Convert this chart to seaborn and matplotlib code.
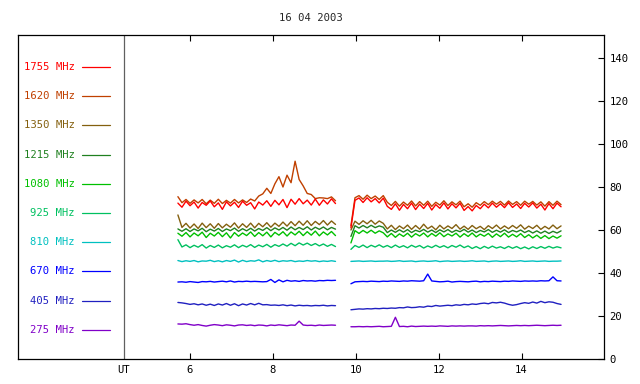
import numpy as np
import pandas as pd
import matplotlib
matplotlib.use("Agg")
import matplotlib.pyplot as plt
import seaborn as sns

TITLE = "16 04 2003"

labels = ["1755 MHz", "1620 MHz", "1350 MHz", "1215 MHz", "1080 MHz",
          "925 MHz", "810 MHz", "670 MHz", "405 MHz", "275 MHz"]
colors = ["#ff0000", "#c04000", "#84600f", "#208020", "#00c000",
          "#00c060", "#00c0c0", "#0000ff", "#2020c0", "#8000c8"]

# two observing runs (UT hours): start of each run and sample spacing
run_start = [5.66, 9.835]
step = 0.0975

# ---- flux values, first run (a) and second run (b) ----
f1755_a = [72.5, 70.6, 73.4, 71.3, 73.0, 70.2, 72.8, 71.5, 73.5, 70.8, 72.6, 69.6, 73.1, 71.2,
           72.9, 70.5, 73.4, 71.5, 72.7, 69.8, 73.0, 71.6, 73.6, 71.0, 73.8, 71.7, 74.2, 70.4,
           74.3, 72.0, 74.6, 72.2, 73.9, 71.6, 74.4, 71.5, 74.0, 72.1, 74.5, 72.3]
f1755_b = [61.0, 73.8, 74.9, 72.8, 75.0, 73.1, 74.6, 72.6, 74.8, 71.0, 69.6, 72.2, 69.2, 71.9,
           69.9, 72.5, 69.5, 72.0, 70.0, 72.4, 69.3, 71.8, 70.1, 72.6, 69.8, 72.2, 70.3, 72.4,
           69.1, 70.9, 68.9, 71.4, 69.9, 72.0, 70.3, 72.5, 70.6, 72.2, 70.4, 72.7, 70.5, 72.1,
           70.0, 72.4, 70.7, 72.6, 70.2, 72.0, 69.3, 72.3, 69.9, 72.5, 70.8]

f1620_a = [75.5, 72.7, 74.2, 72.4, 74.0, 72.6, 74.2, 72.2, 73.9, 72.4, 74.3, 72.3, 73.8, 72.5,
           74.2, 72.6, 74.0, 72.8, 74.4, 73.5, 75.8, 76.8, 79.4, 77.0, 81.5, 84.8, 80.0, 85.5,
           82.0, 92.0, 83.5, 80.5, 77.0, 76.5, 74.6, 75.0, 74.9, 74.6, 75.4, 73.6]
f1620_b = [62.0, 75.0, 76.0, 74.3, 76.2, 74.6, 75.8, 74.2, 76.0, 72.9, 71.4, 73.3, 71.1, 73.0,
           71.5, 73.5, 71.2, 73.2, 71.5, 73.4, 71.0, 72.9, 71.6, 73.6, 71.4, 73.1, 71.7, 73.4,
           70.8, 72.2, 70.6, 72.7, 71.5, 73.2, 71.8, 73.4, 72.0, 73.3, 71.6, 73.5, 71.9, 73.2,
           71.5, 73.4, 72.0, 73.3, 71.6, 73.1, 71.1, 73.2, 71.5, 73.4, 71.8]

f1350_a = [67.0, 61.2, 63.1, 60.9, 62.8, 60.7, 63.2, 61.1, 62.9, 60.8, 63.0, 61.0, 62.7, 61.3,
           63.3, 60.9, 62.9, 61.2, 63.2, 61.0, 63.1, 61.5, 63.4, 61.3, 63.2, 61.7, 63.7, 61.8,
           63.9, 62.0, 64.1, 62.2, 64.3, 62.1, 64.0, 62.5, 64.4, 62.3, 64.2, 62.6]
f1350_b = [60.0, 64.1, 62.6, 64.3, 62.9, 64.5, 62.7, 64.2, 63.1, 60.5, 62.2, 60.2, 61.9, 60.6,
           62.3, 60.3, 62.1, 60.4, 62.7, 60.6, 61.8, 60.1, 62.2, 60.5, 61.9, 60.7, 62.5, 60.4,
           61.8, 60.3, 62.1, 60.6, 61.7, 60.2, 62.0, 60.7, 62.3, 60.5, 61.9, 60.6, 62.1, 60.8,
           62.4, 60.4, 61.8, 60.7, 62.2, 60.3, 61.7, 60.5, 62.3, 60.6, 61.9]

f1215_a = [60.5, 59.4, 60.6, 59.3, 60.5, 59.6, 60.8, 59.2, 60.4, 59.5, 60.7, 59.3, 60.5, 59.7,
           60.9, 59.4, 60.6, 59.6, 60.8, 59.5, 60.7, 59.8, 61.1, 59.7, 61.0, 60.0, 61.2, 59.9,
           61.4, 60.1, 61.2, 60.2, 61.5, 60.0, 61.3, 60.3, 61.4, 60.1, 61.2, 60.4]
f1215_b = [57.0, 62.0, 60.9, 62.1, 61.0, 62.2, 61.1, 61.9, 61.3, 58.8, 60.0, 58.9, 60.1, 59.0,
           60.2, 58.8, 59.9, 59.2, 60.3, 59.0, 60.0, 58.8, 60.1, 59.1, 60.2, 58.9, 59.9, 59.2,
           60.3, 59.0, 60.0, 58.8, 59.8, 59.1, 60.2, 58.9, 59.9, 59.0, 60.1, 58.8, 59.8, 59.1,
           60.0, 58.8, 59.7, 58.6, 59.6, 58.5, 59.5, 58.4, 59.4, 58.6, 59.6]

f1080_a = [58.5, 57.1, 58.8, 56.8, 58.6, 57.3, 59.0, 56.5, 58.5, 57.2, 58.9, 56.9, 58.7, 56.3,
           58.8, 57.1, 58.6, 57.4, 59.1, 57.0, 58.8, 57.3, 59.0, 56.8, 58.9, 57.6, 59.2, 57.2,
           59.1, 57.7, 59.4, 57.4, 59.2, 57.6, 59.5, 57.3, 59.1, 57.7, 59.3, 57.4]
f1080_b = [54.0, 59.7, 58.4, 59.8, 58.6, 59.9, 58.5, 59.6, 58.7, 56.8, 58.4, 56.6, 58.2, 57.0,
           58.5, 56.7, 58.3, 57.2, 58.6, 56.8, 58.4, 57.1, 58.7, 56.9, 58.2, 57.2, 58.5, 56.7,
           58.3, 57.0, 58.6, 56.8, 58.1, 57.1, 58.4, 56.6, 58.2, 56.9, 58.5, 56.7, 58.0, 56.8,
           58.3, 56.5, 57.8, 56.3, 57.6, 56.1, 57.4, 56.0, 57.2, 56.2, 57.3]

f925_a = [55.5, 52.1, 53.1, 51.8, 52.9, 52.0, 53.2, 51.6, 52.8, 51.9, 53.0, 51.7, 52.7, 52.0,
          53.1, 51.8, 52.9, 52.1, 53.2, 51.9, 53.0, 52.2, 53.3, 52.0, 53.2, 52.4, 53.5, 52.5,
          53.8, 52.7, 54.0, 53.0, 53.9, 52.8, 53.7, 52.6, 53.5, 52.4, 53.3, 52.3]
f925_b = [51.0, 52.8, 51.9, 53.0, 51.8, 52.9, 52.1, 53.1, 52.0, 52.8, 51.8, 53.0, 51.9, 52.7,
          51.7, 52.9, 52.0, 52.8, 51.6, 52.6, 51.8, 52.9, 51.9, 52.7, 51.7, 52.8, 52.0, 53.0,
          51.8, 52.6, 51.4, 52.3, 51.3, 52.4, 51.5, 52.5, 51.6, 52.2, 51.4, 52.4, 51.5, 52.3,
          51.3, 52.1, 51.2, 52.2, 51.4, 52.3, 51.5, 52.4, 51.6, 52.2, 51.7]

f810_a = [45.8, 45.3, 45.7, 45.4, 45.8, 45.2, 45.6, 45.5, 45.9, 45.3, 45.7, 45.2, 45.8, 45.4,
          46.0, 45.1, 45.9, 45.3, 45.7, 45.5, 46.1, 45.2, 45.8, 45.4, 45.9, 45.3, 45.7, 45.5,
          45.8, 45.3, 45.6, 45.4, 45.8, 45.5, 45.7, 45.3, 45.6, 45.4, 45.7, 45.4]
f810_b = [45.4, 45.5, 45.6, 45.4, 45.5, 45.6, 45.4, 45.5, 45.5, 45.6, 45.4, 45.5, 45.7, 45.4,
          45.5, 45.6, 45.3, 45.5, 45.6, 45.4, 45.5, 45.7, 45.3, 45.5, 45.6, 45.4, 45.5, 45.6,
          45.4, 45.5, 45.7, 45.4, 45.5, 45.6, 45.3, 45.5, 45.6, 45.4, 45.5, 45.6, 45.4, 45.5,
          45.7, 45.4, 45.5, 45.6, 45.4, 45.5, 45.6, 45.4, 45.5, 45.5, 45.6]

f670_a = [35.8, 35.9, 35.7, 36.0, 35.8, 35.6, 36.0, 35.9, 36.1, 35.8, 36.0, 36.2, 35.9, 36.3,
          35.8, 36.1, 36.0, 36.2, 36.0, 36.1, 36.0, 35.9, 36.0, 37.0, 35.6, 36.8, 35.9, 36.6,
          36.2, 36.4, 36.1, 36.5, 36.3, 36.4, 36.2, 36.5, 36.4, 36.6, 36.5, 36.6]
f670_b = [35.0, 35.9, 36.0, 36.1, 36.0, 36.2, 36.1, 36.0, 36.2, 36.1, 36.3, 36.2, 36.1, 36.3,
          36.2, 36.4, 36.3, 36.2, 36.4, 39.5, 36.3, 36.1, 35.9, 36.0, 36.2, 35.8, 36.0, 36.1,
          36.0, 35.9, 36.1, 36.2, 35.9, 36.1, 36.0, 36.2, 36.1, 36.0, 36.2, 36.1, 36.3, 36.2,
          36.1, 36.3, 36.2, 36.3, 36.2, 36.4, 36.3, 36.4, 38.2, 36.4, 36.3]

f405_a = [26.3, 26.1, 25.8, 25.4, 25.7, 25.2, 25.6, 25.0, 25.5, 24.9, 25.6, 25.1, 25.8, 25.0,
          25.7, 24.8, 25.6, 25.1, 25.8, 25.2, 25.9, 25.2, 25.3, 25.0, 25.1, 24.9, 25.2, 24.8,
          25.1, 24.7, 25.0, 24.8, 24.9, 24.7, 24.9, 24.8, 25.0, 24.7, 24.9, 24.8]
f405_b = [22.9, 23.1, 23.3, 23.2, 23.4, 23.3, 23.5, 23.4, 23.6, 23.5, 23.7, 23.6, 23.9, 23.8,
          24.2, 23.9, 24.0, 24.3, 24.1, 24.6, 24.4, 24.9, 24.6, 24.8, 25.0, 24.8, 25.2, 25.0,
          25.4, 25.2, 25.6, 25.4, 25.8, 26.0, 25.7, 26.3, 26.1, 26.4, 26.0, 25.4, 25.0, 25.3,
          25.8, 26.2, 25.9, 26.5, 26.0, 26.8, 26.2, 26.6, 26.4, 25.8, 25.4]

f275_a = [16.3, 16.2, 16.4, 16.0, 15.7, 16.0, 15.6, 15.3, 15.7, 16.0, 15.8, 15.5, 15.9, 15.7,
          15.4, 15.8, 15.9, 15.6, 15.8, 15.5, 15.8, 15.7, 15.4, 15.8, 15.6, 15.9, 15.7, 15.5,
          15.8, 15.7, 17.6, 15.8, 15.6, 15.7, 15.5, 15.8, 15.6, 15.7, 15.8, 15.7]
f275_b = [15.0, 15.0, 15.1, 15.0, 15.1, 15.0, 15.1, 15.2, 15.0, 15.1, 15.2, 19.4, 15.1, 15.2,
          15.0, 15.3, 15.1, 15.2, 15.3, 15.2, 15.3, 15.2, 15.4, 15.3, 15.2, 15.4, 15.3, 15.4,
          15.3, 15.4, 15.4, 15.3, 15.5, 15.4, 15.5, 15.4, 15.5, 15.6, 15.5, 15.4, 15.5, 15.6,
          15.5, 15.6, 15.5, 15.6, 15.7, 15.6, 15.5, 15.6, 15.7, 15.6, 15.7]

series = {
    "1755 MHz": (f1755_a, f1755_b), "1620 MHz": (f1620_a, f1620_b),
    "1350 MHz": (f1350_a, f1350_b), "1215 MHz": (f1215_a, f1215_b),
    "1080 MHz": (f1080_a, f1080_b), "925 MHz": (f925_a, f925_b),
    "810 MHz": (f810_a, f810_b), "670 MHz": (f670_a, f670_b),
    "405 MHz": (f405_a, f405_b), "275 MHz": (f275_a, f275_b),
}

rows = []
for name, runs in series.items():
    for k, vals in enumerate(runs):
        t = run_start[k] + step * (np.arange(len(vals)) + 0.5)
        rows.append(pd.DataFrame({"ut": t, "flux": vals, "freq": name, "run": k}))
df = pd.concat(rows, ignore_index=True)

sns.set_style("white")
plt.rcParams["font.family"] = ["DejaVu Sans Mono"]

fig = plt.figure(figsize=(6.4, 3.84), dpi=100)
ax = fig.add_axes([18 / 640, 25 / 384, 586 / 640, 324 / 384])

sns.lineplot(data=df, x="ut", y="flux", hue="freq", units="run", estimator=None,
             hue_order=labels[::-1], palette=dict(zip(labels, colors)),
             linewidth=1.0, legend=False, ax=ax)

ax.set_xlim(1.85, 15.99)
ax.set_ylim(0, 150.7)

ut_x = 4.408
ax.axvline(ut_x, color="#606060", linewidth=0.9)

ax.set_xticks([ut_x, 6, 8, 10, 12, 14])
ax.set_xticklabels(["UT", "6", "8", "10", "12", "14"])
ax.set_yticks(range(0, 141, 20))
ax.yaxis.tick_right()
ax.tick_params(axis="both", direction="in", length=4, width=0.8, labelsize=7.6,
               colors="black", pad=4)
ax.tick_params(axis="x", top=True, bottom=True)
ax.tick_params(axis="y", right=True, left=False)
first = ax.xaxis.get_major_ticks()[0]
first.tick1line.set_visible(False)
first.tick2line.set_visible(False)
ax.set_xlabel("")
ax.set_ylabel("")
for s in ax.spines.values():
    s.set_visible(True)
    s.set_color("black")
    s.set_linewidth(0.9)

# frequency key on the left panel
for i, (lab, col) in enumerate(zip(labels, colors)):
    yy = 0.901 - 0.0901 * i
    ax.text(0.097, yy, lab, color=col, fontsize=7.6, ha="right", va="center",
            transform=ax.transAxes)
    ax.plot([0.109, 0.157], [yy, yy], color=col, linewidth=0.9,
            transform=ax.transAxes)

fig.text(311 / 640, 1 - 18 / 384, TITLE, ha="center", va="center", fontsize=7.6)

fig.savefig("out.png", dpi=100)
